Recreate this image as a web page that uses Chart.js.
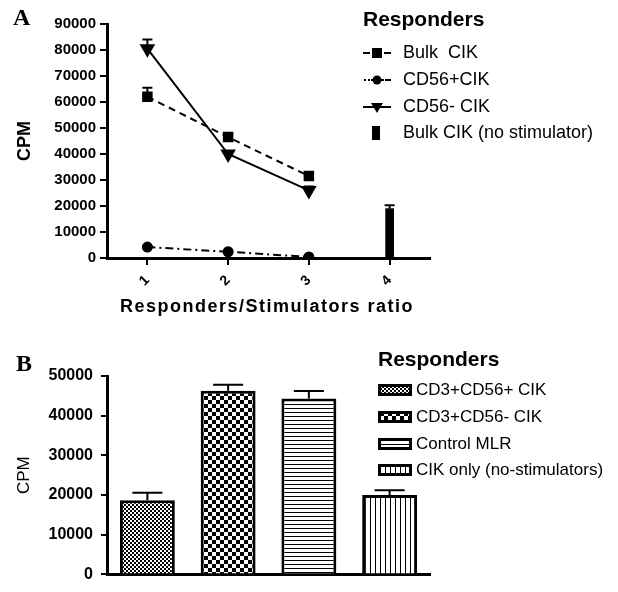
<!DOCTYPE html>
<html>
<head>
<meta charset="utf-8">
<script src="https://cdn.jsdelivr.net/npm/chart.js@4.4.1/dist/chart.umd.min.js"></script>
<style>
  html, body { margin: 0; padding: 0; background: #fff; }
  #wrap { position: relative; width: 618px; height: 592px; }
  canvas { position: absolute; left: 0; }
  #chartA { top: 0; }
  #chartB { top: 320px; }
</style>
</head>
<body>
<div id="wrap">
  <canvas id="chartA" width="618" height="320"></canvas>
  <canvas id="chartB" width="618" height="272"></canvas>
</div>
<script>
// Panel A data: responders/stimulators ratio
const ratios = ['1', '2', '3', '4'];
const bulkCik = [62000, 46500, 31500, null];
const bulkCikErr = [3500, 1200, 1200, null];
const cd56Pos = [4200, 2400, 400, null];
const cd56PosErr = [400, 300, 200, null];
const cd56Neg = [80500, 40000, 26000, null];
const cd56NegErr = [3500, 1000, 1500, null];
const bulkNoStim = [null, null, null, 19000];
const bulkNoStimErr = [null, null, null, 1300];

// Panel B data
const groupsB = ['CD3+CD56+ CIK', 'CD3+CD56- CIK', 'Control MLR', 'CIK only (no-stimulators)'];
const cpmB = [18700, 46300, 44300, 20000];
const cpmBErr = [1900, 1500, 1900, 1200];

const SANS = '"Liberation Sans", Arial, sans-serif';
const SERIF = '"Liberation Serif", "Times New Roman", serif';
Chart.defaults.font.family = SANS;
Chart.defaults.color = '#000';

// error bars, drawn upward only
const errorBars = {
    id: 'errorBars',
    afterDatasetsDraw(chart, args, opts) {
        const ctx = chart.ctx;
        const y = chart.scales.y;
        chart.data.datasets.forEach((ds, i) => {
            if (!ds.errors) return;
            const meta = chart.getDatasetMeta(i);
            meta.data.forEach((el, j) => {
                const v = ds.data[j], e = ds.errors[j];
                if (v == null || e == null) return;
                const top = y.getPixelForValue(v + e);
                ctx.save();
                ctx.strokeStyle = '#000';
                ctx.lineWidth = opts.width;
                ctx.beginPath();
                ctx.moveTo(el.x, el.y);
                ctx.lineTo(el.x, top);
                ctx.moveTo(el.x - opts.cap / 2, top);
                ctx.lineTo(el.x + opts.cap / 2, top);
                ctx.stroke();
                ctx.restore();
            });
        });
    }
};

function text(ctx, str, x, y, font, align, spacing) {
    ctx.save();
    ctx.font = font;
    ctx.fillStyle = '#000';
    ctx.textAlign = align || 'left';
    ctx.textBaseline = 'middle';
    if (spacing) ctx.letterSpacing = spacing;
    ctx.fillText(str, x, y);
    ctx.restore();
}

const plainNumber = v => String(v);

// ---------- Panel A ----------
const legendA = {
    id: 'legendA',
    afterDraw(chart) {
        const ctx = chart.ctx;
        text(ctx, 'A', 13, 19, 'bold 24px ' + SERIF);
        text(ctx, 'Responders/Stimulators ratio', 267, 307, 'bold 18px ' + SANS, 'center', '1.5px');
        text(ctx, 'Responders', 363, 20, 'bold 21px ' + SANS);

        const rows = [53, 80, 107, 133];
        ctx.save();
        ctx.strokeStyle = '#000';
        ctx.fillStyle = '#000';
        ctx.lineWidth = 2;
        // Bulk CIK: dash, square, dash
        ctx.beginPath();
        ctx.moveTo(363, rows[0]); ctx.lineTo(370, rows[0]);
        ctx.moveTo(384, rows[0]); ctx.lineTo(391, rows[0]);
        ctx.stroke();
        ctx.fillRect(372, rows[0] - 5, 10, 10);
        // CD56+ CIK: dots, circle, dash
        ctx.fillRect(364, rows[1] - 1, 2, 2);
        ctx.fillRect(368, rows[1] - 1, 2, 2);
        ctx.beginPath(); ctx.moveTo(371, rows[1]); ctx.lineTo(384, rows[1]); ctx.stroke();
        ctx.beginPath(); ctx.arc(377, rows[1], 4.5, 0, Math.PI * 2); ctx.fill();
        ctx.beginPath(); ctx.moveTo(385, rows[1]); ctx.lineTo(391, rows[1]); ctx.stroke();
        // CD56- CIK: solid line with down triangle
        ctx.beginPath(); ctx.moveTo(363, rows[2]); ctx.lineTo(391, rows[2]); ctx.stroke();
        ctx.beginPath();
        ctx.moveTo(371, rows[2] - 4); ctx.lineTo(383, rows[2] - 4); ctx.lineTo(377, rows[2] + 6);
        ctx.closePath(); ctx.fill();
        // Bulk CIK (no stimulator): bar
        ctx.fillRect(372, rows[3] - 7, 8, 14);
        ctx.restore();

        const labels = ['Bulk  CIK', 'CD56+CIK', 'CD56- CIK', 'Bulk CIK (no stimulator)'];
        labels.forEach((l, i) => text(ctx, l, 403, rows[i], '18px ' + SANS));
    }
};

new Chart(document.getElementById('chartA'), {
    type: 'line',
    data: {
        labels: ratios,
        datasets: [
            {
                label: 'Bulk  CIK',
                data: bulkCik,
                errors: bulkCikErr,
                borderColor: '#000',
                backgroundColor: '#000',
                borderWidth: 2,
                borderDash: [7, 5],
                pointStyle: 'rect',
                pointRadius: 6,
                tension: 0
            },
            {
                label: 'CD56+CIK',
                data: cd56Pos,
                errors: cd56PosErr,
                borderColor: '#000',
                backgroundColor: '#000',
                borderWidth: 2,
                borderDash: [8, 4, 2, 4],
                pointStyle: 'circle',
                pointRadius: 4.5,
                tension: 0
            },
            {
                label: 'CD56- CIK',
                data: cd56Neg,
                errors: cd56NegErr,
                borderColor: '#000',
                backgroundColor: '#000',
                borderWidth: 2,
                pointStyle: 'triangle',
                pointRotation: 180,
                pointRadius: 7,
                tension: 0
            },
            {
                type: 'bar',
                label: 'Bulk CIK (no stimulator)',
                data: bulkNoStim,
                errors: bulkNoStimErr,
                backgroundColor: '#000',
                barThickness: 8
            }
        ]
    },
    options: {
        responsive: false,
        animation: false,
        devicePixelRatio: 1,
        layout: { padding: { top: 24, right: 188, left: 0, bottom: 0 } },
        plugins: {
            legend: { display: false },
            tooltip: { enabled: false },
            errorBars: { cap: 10, width: 2 }
        },
        scales: {
            x: {
                offset: true,
                grid: { display: true, drawOnChartArea: false, color: '#000', lineWidth: 2, tickLength: 7, offset: false },
                border: { color: '#000', width: 3 },
                ticks: { minRotation: 45, maxRotation: 45, font: { size: 14, weight: 'bold' }, padding: 7 },
                afterFit(s) { s.height = 62; }
            },
            y: {
                min: 0,
                max: 90000,
                grid: { drawOnChartArea: false, color: '#000', lineWidth: 2, tickLength: 7 },
                border: { color: '#000', width: 3 },
                ticks: { stepSize: 10000, font: { size: 15, weight: 'bold' }, padding: 4, callback: plainNumber },
                title: { display: true, text: 'CPM', font: { size: 18, weight: 'bold' }, padding: { top: 14, bottom: 0 } },
                afterFit(s) { s.width = 107; }
            }
        }
    },
    plugins: [errorBars, legendA]
});

// ---------- Panel B ----------
const canvasB = document.getElementById('chartB');
const ctxB = canvasB.getContext('2d');

function makePattern(kind) {
    const c = document.createElement('canvas');
    const g = c.getContext('2d');
    if (kind === 'fine') {
        c.width = 4; c.height = 4;
        g.fillStyle = '#fff'; g.fillRect(0, 0, 4, 4);
        g.fillStyle = '#000'; g.fillRect(0, 0, 2, 2); g.fillRect(2, 2, 2, 2);
    } else if (kind === 'checker') {
        c.width = 8; c.height = 8;
        g.fillStyle = '#fff'; g.fillRect(0, 0, 8, 8);
        g.fillStyle = '#000'; g.fillRect(0, 0, 4, 4); g.fillRect(4, 4, 4, 4);
    } else if (kind === 'hlines') {
        c.width = 4; c.height = 4;
        g.fillStyle = '#fff'; g.fillRect(0, 0, 4, 4);
        g.fillStyle = '#000'; g.fillRect(0, 0, 4, 1);
    } else {
        c.width = 5; c.height = 4;
        g.fillStyle = '#fff'; g.fillRect(0, 0, 5, 4);
        g.fillStyle = '#000'; g.fillRect(0, 0, 1, 4);
    }
    return ctxB.createPattern(c, 'repeat');
}
const patternsB = ['fine', 'checker', 'hlines', 'vlines'].map(makePattern);

const legendB = {
    id: 'legendB',
    afterDraw(chart) {
        const ctx = chart.ctx;
        text(ctx, 'B', 16, 45, 'bold 24px ' + SERIF);
        text(ctx, 'Responders', 378, 40, 'bold 21px ' + SANS);
        const rows = [70, 97, 124, 150];
        groupsB.forEach((g, i) => {
            ctx.save();
            ctx.fillStyle = patternsB[i];
            ctx.fillRect(378, rows[i] - 6, 34, 12);
            ctx.strokeStyle = '#000';
            ctx.lineWidth = 3;
            ctx.strokeRect(379.5, rows[i] - 4.5, 31, 9);
            ctx.restore();
            text(ctx, g, 416, rows[i], '17px ' + SANS);
        });
    }
};

new Chart(canvasB, {
    type: 'bar',
    data: {
        labels: groupsB,
        datasets: [{
            label: 'CPM',
            data: cpmB,
            errors: cpmBErr,
            backgroundColor: patternsB,
            borderColor: '#000',
            borderWidth: 3,
            borderSkipped: 'bottom',
            barPercentage: 0.68,
            categoryPercentage: 1
        }]
    },
    options: {
        responsive: false,
        animation: false,
        devicePixelRatio: 1,
        layout: { padding: { top: 56, right: 188, left: 0, bottom: 0 } },
        plugins: {
            legend: { display: false },
            tooltip: { enabled: false },
            errorBars: { cap: 30, width: 2 }
        },
        scales: {
            x: {
                grid: { display: false },
                border: { color: '#000', width: 3 },
                ticks: { display: false },
                afterFit(s) { s.height = 5; }
            },
            y: {
                min: 0,
                max: 50000,
                grid: { drawOnChartArea: false, color: '#000', lineWidth: 2, tickLength: 6 },
                border: { color: '#000', width: 3 },
                ticks: { stepSize: 10000, font: { size: 16, weight: 'bold' }, padding: 8, callback: plainNumber },
                title: { display: true, text: 'CPM', font: { size: 17 }, padding: { top: 14, bottom: 0 } },
                afterFit(s) { s.width = 107; }
            }
        }
    },
    plugins: [errorBars, legendB]
});
</script>
</body>
</html>
